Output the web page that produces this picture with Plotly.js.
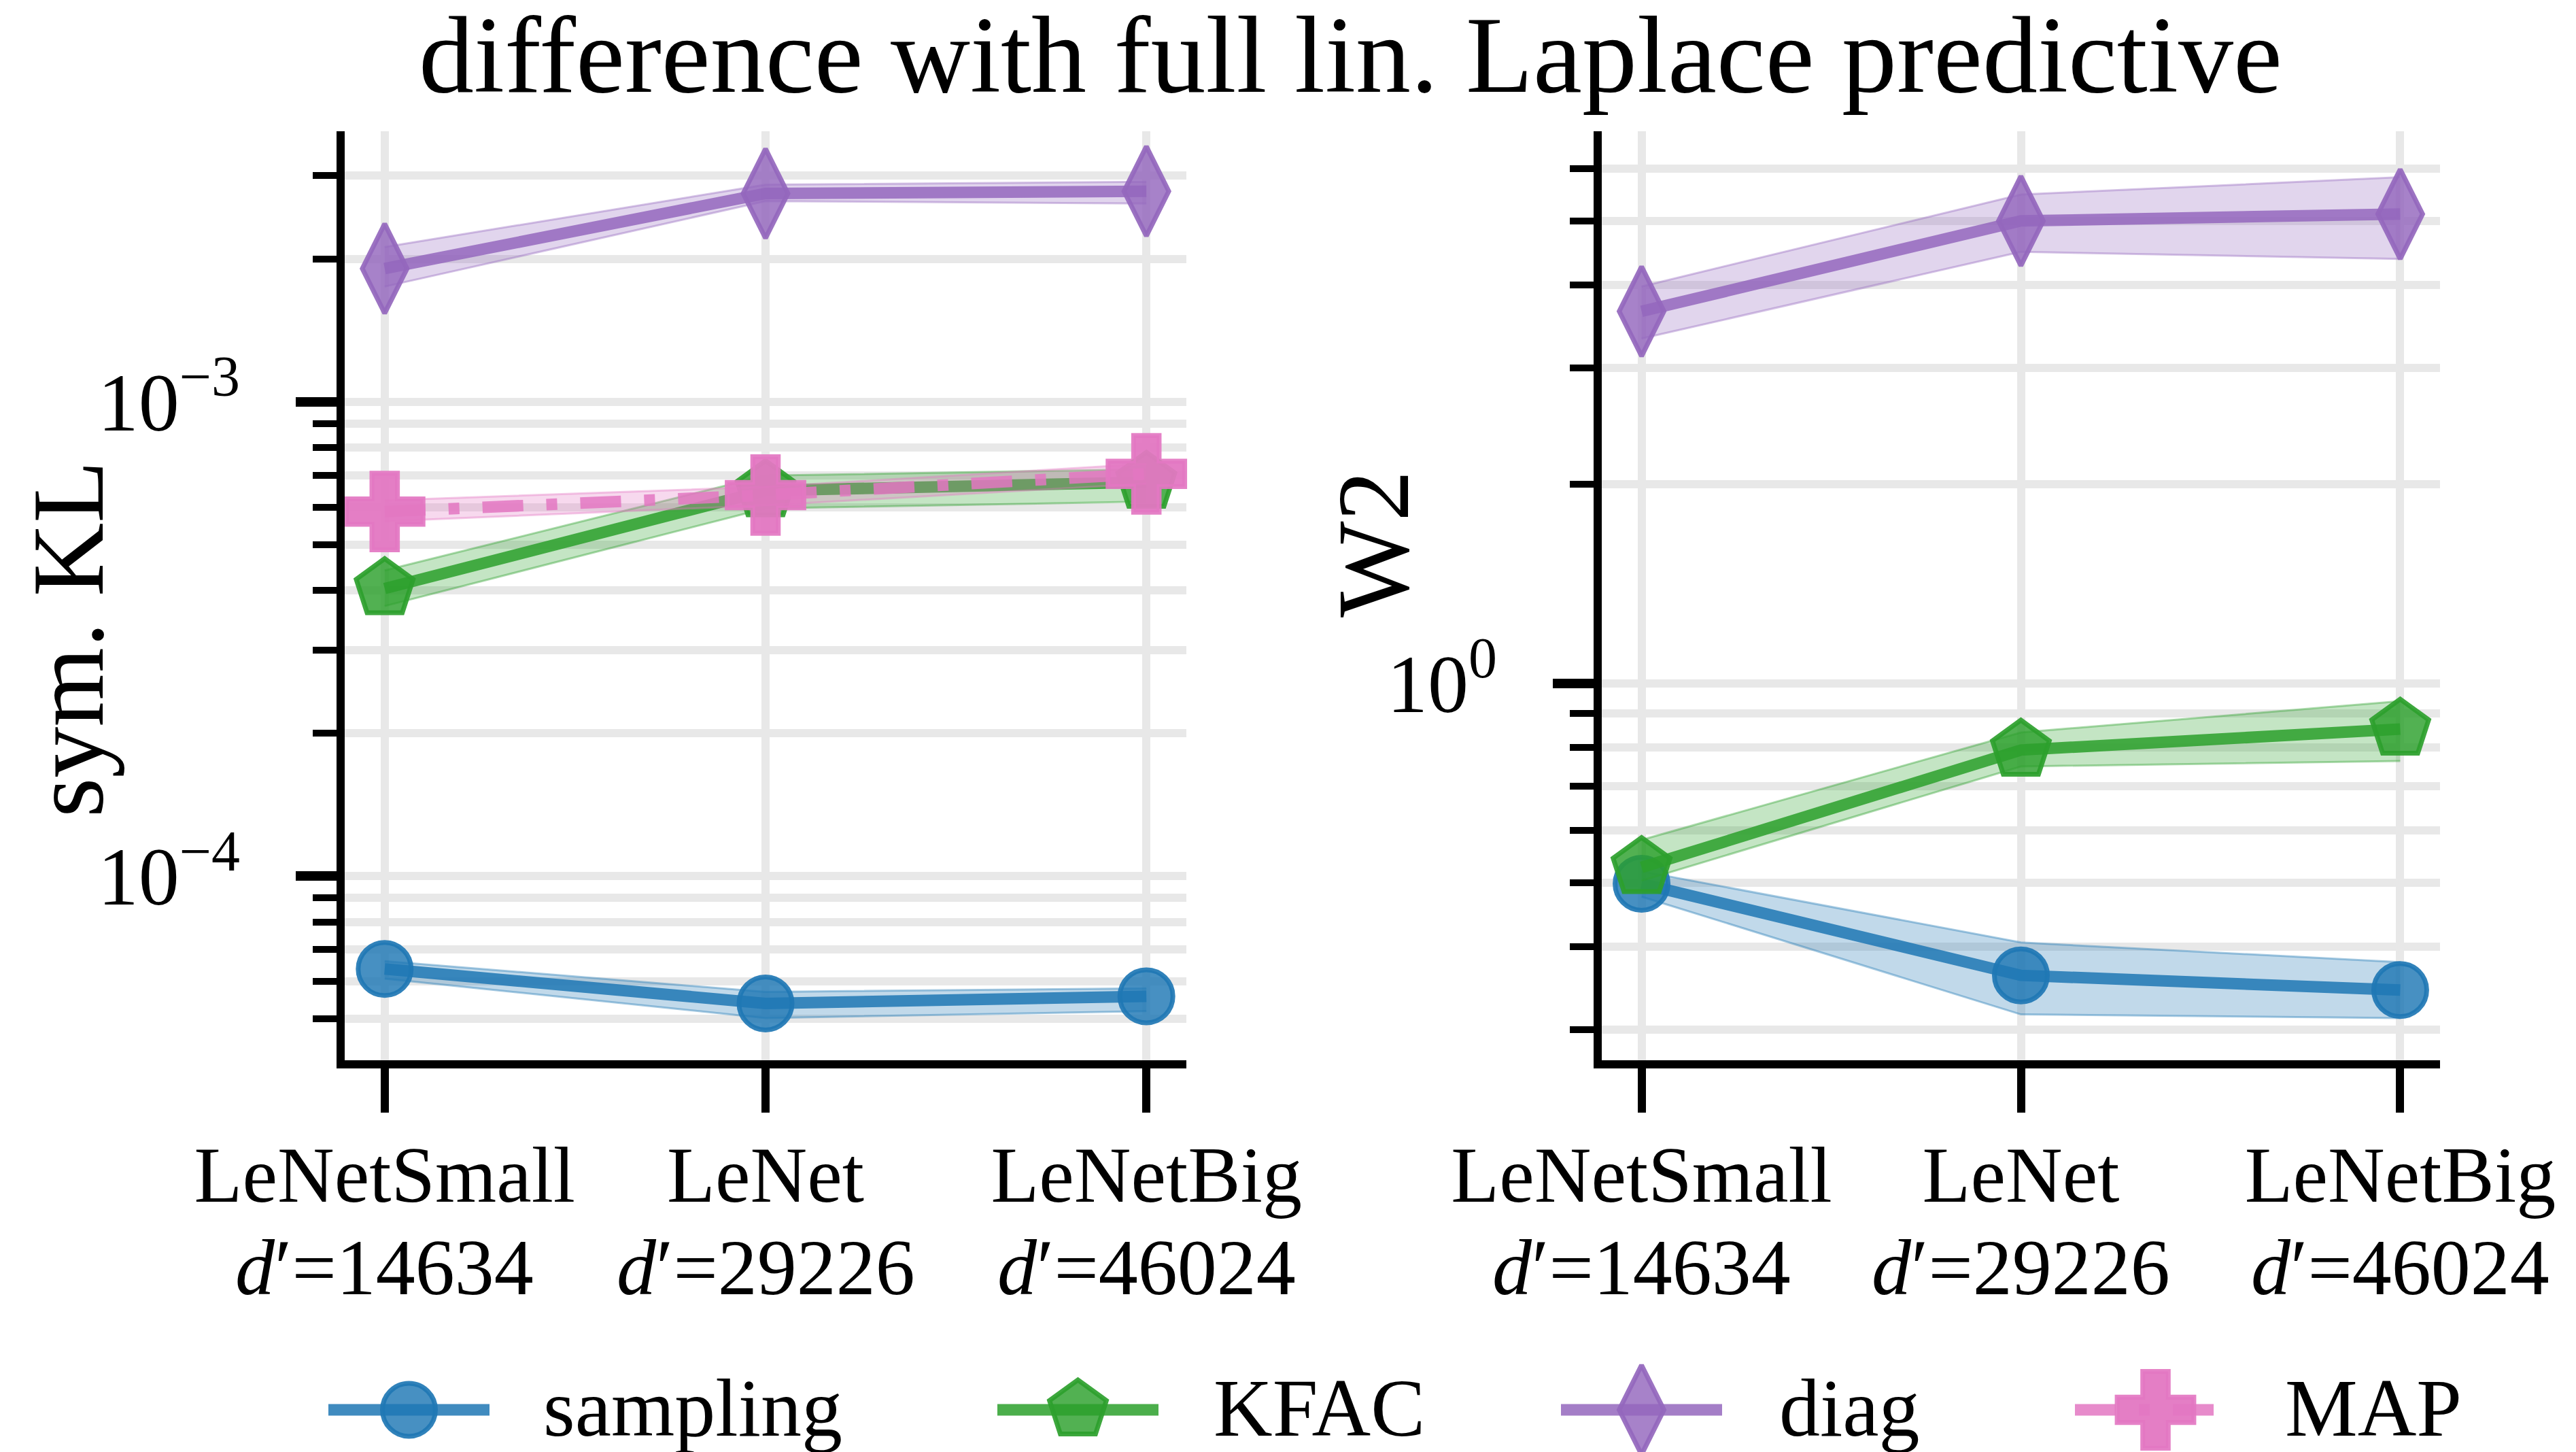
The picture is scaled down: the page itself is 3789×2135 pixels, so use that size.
<!DOCTYPE html>
<html>
<head>
<meta charset="utf-8">
<script src="https://cdn.plot.ly/plotly-3.0.1.min.js"></script>
<style>
  html, body { margin: 0; padding: 0; background: #ffffff; }
  #chart { width: 3789px; height: 2135px; }
</style>
</head>
<body>
<div id="chart"></div>
<script>
// ---- data -------------------------------------------------------------
const models = ['LeNetSmall', 'LeNet', 'LeNetBig'];
const paramCounts = ['14634', '29226', '46024'];
const methods = ['sampling', 'KFAC', 'diag', 'MAP'];

// symmetric KL to the full linearised Laplace predictive (mean, band low, band high)
const klSamplingMean = [6.37e-5, 5.39e-5, 5.58e-5];
const klSamplingLo   = [6.08e-5, 5.02e-5, 5.19e-5];
const klSamplingHi   = [6.62e-5, 5.70e-5, 5.80e-5];
const klKfacMean = [4.04e-4, 6.50e-4, 6.77e-4];
const klKfacLo   = [3.71e-4, 5.96e-4, 6.16e-4];
const klKfacHi   = [4.41e-4, 6.99e-4, 7.21e-4];
const klDiagMean = [1.91e-3, 2.75e-3, 2.78e-3];
const klDiagLo   = [1.75e-3, 2.65e-3, 2.62e-3];
const klDiagHi   = [2.12e-3, 2.87e-3, 2.91e-3];
const klMapMean = [5.87e-4, 6.36e-4, 7.05e-4];
const klMapLo   = [5.60e-4, 6.05e-4, 6.72e-4];
const klMapHi   = [6.20e-4, 6.62e-4, 7.40e-4];

// 2-Wasserstein distance
const w2SamplingMean = [0.498, 0.362, 0.344];
const w2SamplingLo   = [0.476, 0.316, 0.312];
const w2SamplingHi   = [0.520, 0.406, 0.379];
const w2KfacMean = [0.527, 0.793, 0.853];
const w2KfacLo   = [0.503, 0.749, 0.763];
const w2KfacHi   = [0.580, 0.843, 0.940];
const w2DiagMean = [3.65, 5.00, 5.12];
const w2DiagLo   = [3.32, 4.49, 4.38];
const w2DiagHi   = [3.98, 5.48, 5.82];

// axis ticks
const klTickVals = [1e-4, 1e-3];
const klTickText = ['10<sup>−4</sup>', '10<sup>−3</sup>'];
const klMinorVals = [5e-5, 6e-5, 7e-5, 8e-5, 9e-5,
                     2e-4, 3e-4, 4e-4, 5e-4, 6e-4, 7e-4, 8e-4, 9e-4,
                     2e-3, 3e-3];
const w2TickVals = [1];
const w2TickText = ['10<sup>0</sup>'];
const w2MinorVals = [0.3, 0.4, 0.5, 0.6, 0.7, 0.8, 0.9, 2, 3, 4, 5, 6];

const titleText = 'difference with full lin. Laplace predictive';
const klLabel = 'sym. KL';
const w2Label = 'W2';

// ---- styling ----------------------------------------------------------
const FONT = 'Liberation Serif, Times New Roman, serif';
const styles = {
  sampling: { rgb: [31, 119, 180],  symbol: 'circle',       size: 78, dash: 'solid', face: 0.82 },
  KFAC:     { rgb: [44, 160, 44],   symbol: 'pentagon',     size: 88, dash: 'solid', face: 0.82 },
  diag:     { rgb: [148, 103, 189], symbol: 'diamond-tall', size: 94, dash: 'solid', face: 0.82 },
  MAP:      { rgb: [227, 119, 194], symbol: 'cross',        size: 94, dash: '60px,34px,16px,34px', face: 0.95 }
};
const rgba = (c, a) => `rgba(${c[0]},${c[1]},${c[2]},${a})`;
const xIdx = models.map((_, i) => i);

const traces = [];
function markerStyle(s) {
  return { symbol: s.symbol, size: s.size, color: rgba(s.rgb, s.face),
           line: { color: rgba(s.rgb, 0.92), width: 7 } };
}
function addSeries(xa, ya, method, mean, lo, hi) {
  const s = styles[method];
  traces.push({
    x: xIdx, y: lo, xaxis: xa, yaxis: ya, mode: 'lines',
    line: { color: rgba(s.rgb, 0.4), width: 3 },
    showlegend: false, hoverinfo: 'skip'
  });
  traces.push({
    x: xIdx, y: hi, xaxis: xa, yaxis: ya, mode: 'lines', fill: 'tonexty',
    fillcolor: rgba(s.rgb, 0.28),
    line: { color: rgba(s.rgb, 0.4), width: 3 },
    showlegend: false, hoverinfo: 'skip'
  });
  traces.push({
    x: xIdx, y: mean, xaxis: xa, yaxis: ya, mode: 'lines+markers', name: method,
    line: { color: rgba(s.rgb, 0.85), width: 17, dash: s.dash },
    marker: markerStyle(s),
    cliponaxis: false, showlegend: false
  });
}

addSeries('x', 'y', 'sampling', klSamplingMean, klSamplingLo, klSamplingHi);
addSeries('x', 'y', 'KFAC', klKfacMean, klKfacLo, klKfacHi);
addSeries('x', 'y', 'diag', klDiagMean, klDiagLo, klDiagHi);
addSeries('x', 'y', 'MAP', klMapMean, klMapLo, klMapHi);

addSeries('x2', 'y2', 'sampling', w2SamplingMean, w2SamplingLo, w2SamplingHi);
addSeries('x2', 'y2', 'KFAC', w2KfacMean, w2KfacLo, w2KfacHi);
addSeries('x2', 'y2', 'diag', w2DiagMean, w2DiagLo, w2DiagHi);

// ---- legend key, drawn on a full-figure overlay axis -------------------
const W = 3789, H = 2135;
const keyY = 1 - 2073 / H;
const keyLineStart = [483, 1467, 2296, 3052];
const keyLineLen = 237;
const keyTextStart = [797, 1783, 2615, 3359];
const annotations = [];
methods.forEach((m, i) => {
  const s = styles[m];
  const x0 = keyLineStart[i] / W, x1 = (keyLineStart[i] + keyLineLen) / W;
  traces.push({
    x: [x0, x1], y: [keyY, keyY], xaxis: 'x3', yaxis: 'y3', mode: 'lines',
    line: { color: rgba(s.rgb, 0.85), width: 17, dash: s.dash },
    showlegend: false, hoverinfo: 'skip', cliponaxis: false
  });
  traces.push({
    x: [(x0 + x1) / 2], y: [keyY], xaxis: 'x3', yaxis: 'y3', mode: 'markers',
    marker: markerStyle(s),
    showlegend: false, hoverinfo: 'skip', cliponaxis: false
  });
  annotations.push({
    text: m, xref: 'paper', yref: 'paper', x: keyTextStart[i] / W, y: 1 - 2070 / H,
    xanchor: 'left', yanchor: 'middle', showarrow: false,
    font: { family: FONT, size: 120, color: '#000' }
  });
});

// second row of category labels: parameter count
['x', 'x2'].forEach(xr => {
  paramCounts.forEach((d, i) => {
    annotations.push({
      text: '<i>d</i>′=' + d, xref: xr, yref: 'paper', x: i, y: 1 - 1864 / H,
      xanchor: 'center', yanchor: 'middle', showarrow: false,
      font: { family: FONT, size: 116, color: '#000' }
    });
  });
});

// figure title and axis titles
annotations.push({
  text: titleText, xref: 'paper', yref: 'paper', x: 1986 / W, y: 1 - 80 / H,
  xanchor: 'center', yanchor: 'middle', showarrow: false,
  font: { family: FONT, size: 162, color: '#000' }
});
annotations.push({
  text: klLabel, xref: 'paper', yref: 'paper', x: 100 / W, y: 1 - 940 / H,
  xanchor: 'center', yanchor: 'middle', textangle: -90, showarrow: false,
  font: { family: FONT, size: 150, color: '#000' }
});
annotations.push({
  text: w2Label, xref: 'paper', yref: 'paper', x: 2020 / W, y: 1 - 800 / H,
  xanchor: 'center', yanchor: 'middle', textangle: -90, showarrow: false,
  font: { family: FONT, size: 150, color: '#000' }
});

// ---- axes -------------------------------------------------------------
const GRID = '#e8e8e8';
const yDomain = [1 - 1559 / H, 1 - 193 / H];
function catAxis(domain, anchor) {
  return {
    domain: domain, anchor: anchor, range: [-0.105, 2.105],
    tickmode: 'array', tickvals: xIdx, ticktext: models,
    showline: true, linecolor: '#000', linewidth: 12,
    ticks: 'outside', ticklen: 65, tickwidth: 12, tickcolor: '#000',
    showgrid: true, gridcolor: GRID, gridwidth: 12, zeroline: false,
    tickfont: { family: FONT, size: 116, color: '#000' },
    ticklabelstandoff: -8, automargin: false, fixedrange: true
  };
}
function logAxis(anchor, lo, hi, tv, tt, mv) {
  return {
    domain: yDomain, anchor: anchor, type: 'log',
    range: [Math.log10(lo), Math.log10(hi)],
    tickmode: 'array', tickvals: tv, ticktext: tt,
    showline: true, linecolor: '#000', linewidth: 12,
    ticks: 'outside', ticklen: 60, tickwidth: 14, tickcolor: '#000',
    showgrid: true, gridcolor: GRID, gridwidth: 12, zeroline: false,
    minor: { tickmode: 'array', tickvals: mv, ticks: 'outside', ticklen: 35,
             tickwidth: 10, tickcolor: '#000', showgrid: true,
             gridcolor: GRID, gridwidth: 12 },
    tickfont: { family: FONT, size: 120, color: '#000' },
    ticklabelstandoff: 58, automargin: false, fixedrange: true
  };
}

const layout = {
  width: W, height: H,
  margin: { l: 0, r: 0, t: 0, b: 0 },
  paper_bgcolor: '#ffffff', plot_bgcolor: 'rgba(0,0,0,0)',
  showlegend: false,
  xaxis: catAxis([507 / W, 1745 / W], 'y'),
  yaxis: logAxis('x', 4.09e-5, 3.72e-3, klTickVals, klTickText, klMinorVals),
  xaxis2: catAxis([2356 / W, 3589 / W], 'y2'),
  yaxis2: logAxis('x2', 0.2694, 6.83, w2TickVals, w2TickText, w2MinorVals),
  xaxis3: { domain: [0, 1], range: [0, 1], anchor: 'y3', visible: false, fixedrange: true },
  yaxis3: { domain: [0, 1], range: [0, 1], anchor: 'x3', visible: false, fixedrange: true },
  annotations: annotations
};

Plotly.newPlot('chart', traces, layout, { staticPlot: true, displayModeBar: false });
</script>
</body>
</html>
